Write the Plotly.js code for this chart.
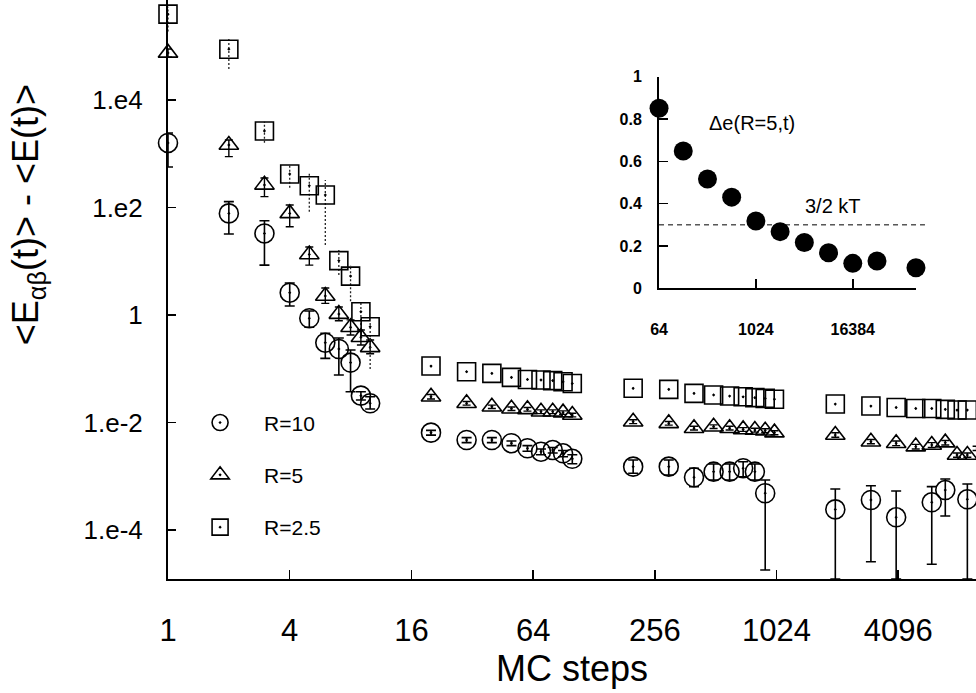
<!DOCTYPE html>
<html>
<head>
<meta charset="utf-8">
<script src="https://cdn.plot.ly/plotly-3.0.1.min.js"></script>
<style>html,body{margin:0;padding:0;background:#fff;}#chart{width:976px;height:693px;}</style>
</head>
<body>
<div id="chart"></div>
<script>
// MC steps (shared by the three series)
const steps = [1,2,3,4,5,6,7,8,9,10,
  20,30,40,50,60,70,80,90,100,
  200,300,400,500,600,700,800,900,1000,
  2000,3000,4000,5000,6000,7000,8000,9000,10000];

// R = 10 (circles)
const r10 = [1600,78,33,2.6,0.87,0.305,0.233,0.13,0.0315,0.0227,
  0.00645,0.0047,0.0047,0.0041,0.0033,0.00285,0.00306,0.00266,0.0021,
  0.0015,0.0015,0.00095,0.00121,0.00121,0.0014,0.00121,0.00048,null,
  0.00024,0.000359,0.000171,null,0.000325,0.00055,null,0.00037,null];
const r10Hi = [2450,129,57,3.94,1.19,0.456,0.373,0.223,0.0373,0.0301,
  0.0071,0.0052,0.0052,0.0045,0.0037,0.0032,0.0034,0.0030,0.0025,
  0.0020,0.0020,0.0014,0.00168,0.00168,0.00185,0.00168,0.000846,null,
  0.000575,0.000662,0.000528,null,0.000636,0.000883,null,0.000713,null];
const r10Lo = [570,32.2,8.5,1.47,0.59,0.156,0.0763,0.0373,0.0261,0.0178,
  0.0058,0.0042,0.0042,0.0037,0.0029,0.0025,0.0027,0.0023,0.0017,
  0.00113,0.00105,0.000635,0.000846,0.000846,0.000975,0.000846,0.0000178,null,
  0.0000121,0.0000255,0.0000121,null,0.0000228,0.000181,null,0.0000121,null];

// R = 5 (triangles)
const r5 = [76000,1465,265,78,13.4,2.26,1.04,0.59,0.385,0.25,
  0.030,0.0227,0.0196,0.018,0.0175,0.0158,0.0158,0.0152,0.0137,
  0.0103,0.0096,0.0078,0.0083,0.0078,0.0074,0.0072,0.0070,0.00645,
  0.00582,0.00437,0.0041,0.00354,0.0038,0.0042,0.00247,0.00247,0.0033];
const r5Hi = [90000,1820,355,112,18.5,3.18,1.41,0.81,0.525,0.342,
  0.033,0.0245,0.021,0.0194,0.0189,0.0171,0.0171,0.0164,0.0148,
  0.0112,0.0104,0.0085,0.009,0.0085,0.008,0.0078,0.0076,0.007,
  0.0064,0.0048,0.0045,0.0039,0.0042,0.0046,0.0027,0.0027,0.0036];
const r5Lo = [63000,891,160,44,8.5,1.65,0.78,0.425,0.276,0.19,
  0.0272,0.021,0.0182,0.0167,0.0162,0.0146,0.0146,0.0141,0.0127,
  0.0095,0.0089,0.0072,0.0077,0.0072,0.0068,0.0066,0.0064,0.0059,
  0.0053,0.004,0.0037,0.0032,0.0034,0.0038,0.00225,0.00225,0.003];

// R = 2.5 (squares)
const r25 = [400000,89000,2670,423,256,172,10.3,5.3,1.15,0.605,
  0.112,0.088,0.082,0.069,0.063,0.0617,0.060,0.057,0.053,
  0.0432,0.0413,0.0348,0.0324,0.031,0.030,0.0289,0.028,0.027,
  0.022,0.0202,0.019,0.0182,0.0182,0.0175,0.017,0.017,0.017];
const r25Hi = [550000,144000,3980,621,435,327,16.2,8.5,1.75,0.75,
  0.118,0.093,0.086,0.073,0.066,0.065,0.063,0.06,0.056,
  0.0454,0.0434,0.0365,0.034,0.0326,0.0315,0.0303,0.0294,0.0284,
  0.0231,0.0212,0.02,0.0191,0.0191,0.0184,0.0179,0.0179,0.0179];
const r25Lo = [190000,38100,1620,235,84,20.1,5.56,1.8,0.65,0.0987,
  0.106,0.083,0.078,0.065,0.06,0.0587,0.057,0.054,0.05,
  0.041,0.0392,0.0331,0.0308,0.0295,0.0285,0.0275,0.0266,0.0257,
  0.0209,0.0192,0.018,0.0173,0.0173,0.0166,0.0162,0.0162,0.0162];

// Inset: Delta e(R=5,t)
const insetSteps = [64,128,256,512,1024,2048,4096,8192,16384,32768,100000];
const insetDe = [0.851,0.649,0.517,0.431,0.318,0.268,0.217,0.168,0.118,0.129,0.097];
const kT32 = 0.3;

// tick labels
const xTickVals = [1,4,16,64,256,1024,4096];
const xTickText = ['1','4','16','64','256','1024','4096'];
const yTickVals = [1e-4,1e-2,1,1e2,1e4];
const yTickText = ['1.e-4','1.e-2','1','1.e2','1.e4'];
const insetXVals = [64,1024,16384];
const insetXText = ['64','1024','16384'];
const insetYVals = [0,0.2,0.4,0.6,0.8,1];
const insetYText = ['0','0.2','0.4','0.6','0.8','1'];

const FONT = 'Liberation Sans, Arial, Helvetica, sans-serif';

function errObj(v, hi, lo, thick, w){
  return {type:'data', symmetric:false,
    array: v.map((y,i)=> (y==null||hi[i]==null)? null : hi[i]-y),
    arrayminus: v.map((y,i)=> (y==null||lo[i]==null)? null : y-lo[i]),
    color:'black', thickness:thick, width:w};
}
function dottedBars(v, hi, lo){
  const xs=[], ys=[];
  v.forEach((y,i)=>{ if(y!=null && hi[i]!=null && lo[i]!=null){ xs.push(steps[i],steps[i],null); ys.push(lo[i],hi[i],null);} });
  return {x:xs,y:ys};
}
const sqBars = dottedBars(r25, r25Hi, r25Lo);

const traces = [
  {x:steps, y:r10, type:'scatter', mode:'markers', name:'R=10', legendgroup:'a',
   cliponaxis:false,
   marker:{symbol:'circle-open-dot', size:19, color:'black', line:{width:1.6,color:'black'}},
   error_y: errObj(r10, r10Hi, r10Lo, 1.6, 5)},
  {x:steps, y:r5, type:'scatter', mode:'markers', name:'R=5', legendgroup:'b',
   cliponaxis:false,
   marker:{symbol:'triangle-up-open-dot', size:17, color:'black', line:{width:1.6,color:'black'}},
   error_y: errObj(r5, r5Hi, r5Lo, 1.4, 4)},
  {x:sqBars.x, y:sqBars.y, type:'scatter', mode:'lines', showlegend:false, cliponaxis:false,
   line:{color:'#222', width:1.3, dash:'2px,2px'}, hoverinfo:'skip'},
  {x:steps, y:r25, type:'scatter', mode:'markers', name:'R=2.5', legendgroup:'c',
   cliponaxis:false,
   marker:{symbol:'square-open-dot', size:18, color:'black', line:{width:1.6,color:'black'}}},
  {x:insetSteps, y:insetDe, xaxis:'x2', yaxis:'y2', type:'scatter', mode:'markers',
   showlegend:false, cliponaxis:false,
   marker:{symbol:'circle', size:19, color:'black'}}
];

const layout = {
  width:976, height:693,
  margin:{l:168, r:0, t:0, b:114},
  paper_bgcolor:'white', plot_bgcolor:'white',
  font:{family:FONT, color:'black'},
  showlegend:true,
  legend:{x:0.01, y:0.305, xanchor:'left', yanchor:'top', traceorder:'grouped',
    tracegroupgap:22, font:{size:21, family:FONT}, bgcolor:'rgba(0,0,0,0)', itemwidth:78},
  xaxis:{type:'log', range:[0, 3.997], tickvals:xTickVals, ticktext:xTickText,
    ticks:'inside', ticklen:9, tickwidth:1.5, tickcolor:'black',
    showline:true, linewidth:2, linecolor:'black', showgrid:false, zeroline:false,
    tickfont:{size:31, family:FONT}, ticklabelstandoff:23,
    title:{text:'MC steps', font:{size:36, family:FONT}, standoff:6}},
  yaxis:{type:'log', range:[-4.916, 5.866], tickvals:yTickVals, ticktext:yTickText,
    ticks:'inside', ticklen:8, tickwidth:1.5, tickcolor:'black',
    showline:true, linewidth:2, linecolor:'black', showgrid:false, zeroline:false,
    tickfont:{size:26, family:FONT}, ticklabelstandoff:18},
  xaxis2:{type:'log', domain:[0.6077,0.9257], anchor:'y2', range:[1.806, 5.0],
    tickvals:insetXVals, ticktext:insetXText, ticks:'inside', ticklen:9, tickwidth:1.5, tickcolor:'black',
    showline:true, linewidth:2, linecolor:'black', showgrid:false, zeroline:false,
    tickfont:{size:16, family:FONT, weight:'bold'}, ticklabelstandoff:25},
  yaxis2:{domain:[0.502,0.8675], anchor:'x2', range:[0,1],
    tickvals:insetYVals, ticktext:insetYText, ticks:'inside', ticklen:9, tickwidth:1.5, tickcolor:'black',
    showline:true, linewidth:2, linecolor:'black', showgrid:false, zeroline:false,
    tickfont:{size:16, family:FONT, weight:'bold'}, ticklabelstandoff:12},
  shapes:[{type:'line', xref:'x2 domain', yref:'y2', x0:0, x1:1.035, y0:kT32, y1:kT32,
    line:{color:'black', width:1, dash:'5px,4px'}}],
  annotations:[
    {text:'&lt;E<sub>αβ</sub>(t)&gt; - &lt;E(t)&gt;', xref:'paper', yref:'paper',
     x:-0.173, y:0.6287, xanchor:'center', yanchor:'middle', textangle:-90, showarrow:false,
     font:{size:36, family:FONT}},
    {text:'Δe(R=5,t)', xref:'paper', yref:'paper', x:0.7228, y:0.7876, xanchor:'center', yanchor:'middle',
     showarrow:false, font:{size:20, family:FONT}},
    {text:'3/2 kT', xref:'paper', yref:'paper', x:0.823, y:0.644, xanchor:'center', yanchor:'middle',
     showarrow:false, font:{size:20, family:FONT}}
  ]
};

Plotly.newPlot('chart', traces, layout, {displayModeBar:false, staticPlot:true});
</script>
</body>
</html>
